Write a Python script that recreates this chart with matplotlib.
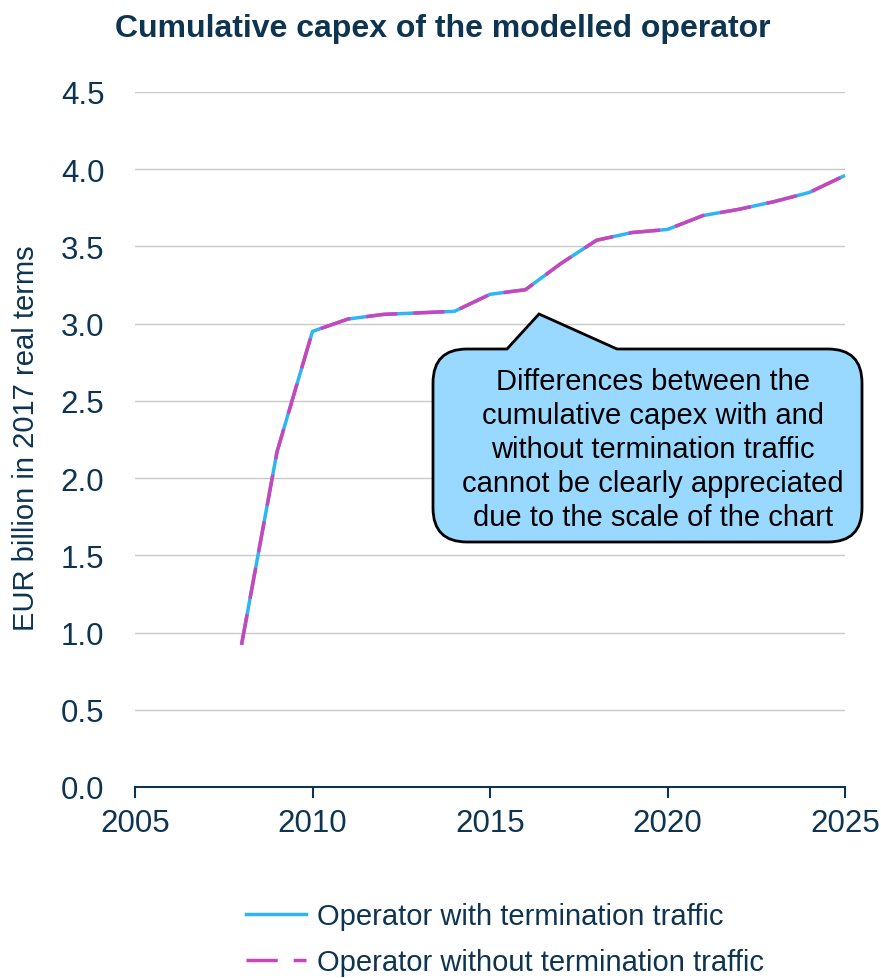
import matplotlib
matplotlib.use("Agg")
import matplotlib.pyplot as plt
from matplotlib.path import Path
from matplotlib.patches import PathPatch
from matplotlib.lines import Line2D
import matplotlib.transforms as mtransforms

plt.rcParams['font.family'] = ['Liberation Sans', 'DejaVu Sans']

years = [2008, 2009, 2010, 2011, 2012, 2013, 2014, 2015, 2016, 2017,
         2018, 2019, 2020, 2021, 2022, 2023, 2024, 2025]
with_term = [0.92, 2.17, 2.95, 3.03, 3.06, 3.07, 3.08, 3.19, 3.22, 3.39,
             3.54, 3.59, 3.61, 3.70, 3.74, 3.79, 3.85, 3.96]
without_term = [0.92, 2.17, 2.95, 3.03, 3.06, 3.07, 3.08, 3.19, 3.22, 3.39,
                3.54, 3.59, 3.61, 3.70, 3.74, 3.79, 3.85, 3.96]
xticks = [2005, 2010, 2015, 2020, 2025]
yticks = [0.0, 0.5, 1.0, 1.5, 2.0, 2.5, 3.0, 3.5, 4.0, 4.5]

NAVY = '#0D3451'
CYAN = '#2FB4F5'
PINK = '#CC44BB'
W, H = 881, 979

fig = plt.figure(figsize=(W/100, H/100), dpi=100)
ax = fig.add_axes([135/W, 1-788/H, (845-135)/W, (788-93)/H])

ax.plot(years, with_term, color=CYAN, lw=2.5, solid_capstyle='butt',
        label='Operator with termination traffic', clip_on=False, zorder=3)
ax.plot(years, without_term, color=PINK, lw=2.5, dashes=(9.0, 4.6),
        label='Operator without termination traffic', clip_on=False, zorder=4)

ax.set_xlim(2005, 2025)
ax.set_ylim(0, 4.5)
ax.set_xticks(xticks)
ax.set_yticks(yticks)
ax.set_yticklabels([f'{v:.1f}' for v in yticks])
ax.grid(axis='y', color='#C8C8C8', lw=1)
ax.set_axisbelow(True)
for s in ['left', 'right', 'top']:
    ax.spines[s].set_visible(False)
ax.spines['bottom'].set_color(NAVY)
ax.spines['bottom'].set_linewidth(1.5)
ax.tick_params(axis='x', direction='out', length=8, width=1.5, color=NAVY,
               labelcolor=NAVY, labelsize=22.5, pad=7)
ax.tick_params(axis='y', length=0, labelcolor=NAVY, labelsize=22.5, pad=22)
ax.set_ylabel('EUR billion in 2017 real terms', fontsize=21, color=NAVY)
ax.yaxis.set_label_coords(-(135-40)/(845-135), 0.5 - (438-440.5)/695)

fig.text(443/W, 1-29/H, 'Cumulative capex of the modelled operator',
         ha='center', va='center', fontsize=23, fontweight='bold', color=NAVY)

# callout bubble (figure pixel coordinates, y from top)
tr = mtransforms.Affine2D().scale(1/W, -1/H).translate(0, 1) + fig.transFigure
x0, x1, y0, y1, r = 433, 862, 350, 543, 34
tip = (539, 315)
b0, b1 = 507, 617
verts = [(x0 + r, y0), (b0, y0), tip, (b1, y0), (x1 - r, y0),
         (x1, y0), (x1, y0 + r),
         (x1, y1 - r),
         (x1, y1), (x1 - r, y1),
         (x0 + r, y1),
         (x0, y1), (x0, y1 - r),
         (x0, y0 + r),
         (x0, y0), (x0 + r, y0),
         (x0 + r, y0)]
codes = [Path.MOVETO, Path.LINETO, Path.LINETO, Path.LINETO, Path.LINETO,
         Path.CURVE3, Path.CURVE3,
         Path.LINETO,
         Path.CURVE3, Path.CURVE3,
         Path.LINETO,
         Path.CURVE3, Path.CURVE3,
         Path.LINETO,
         Path.CURVE3, Path.CURVE3,
         Path.CLOSEPOLY]
patch = PathPatch(Path(verts, codes), facecolor='#99D9FF', edgecolor='black',
                  lw=2, transform=tr, zorder=10, clip_on=False)
fig.add_artist(patch)
fig.text(653/W, 1-450/H,
         'Differences between the\ncumulative capex with and\nwithout termination traffic\n'
         'cannot be clearly appreciated\ndue to the scale of the chart',
         ha='center', va='center', fontsize=21, color='black',
         linespacing=1.27, zorder=11)

handles = [Line2D([], [], color=CYAN, lw=2.5),
           Line2D([], [], color=PINK, lw=2.5, dashes=(9.0, 4.6))]
labels = ['Operator with termination traffic', 'Operator without termination traffic']
leg = fig.legend(handles, labels, loc='upper left', bbox_to_anchor=(246/W, 1-903/H),
                 frameon=False, fontsize=21, handlelength=2.05, handletextpad=0.4,
                 labelspacing=0.62, borderaxespad=0, borderpad=0)
for t in leg.get_texts():
    t.set_color(NAVY)

fig.savefig('out.png', dpi=100)
